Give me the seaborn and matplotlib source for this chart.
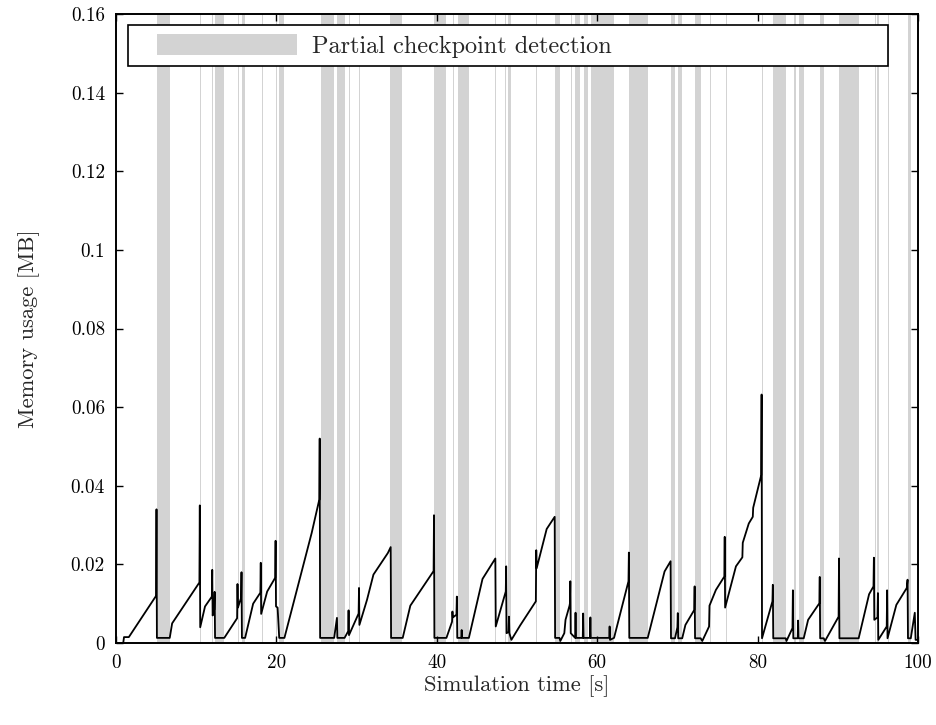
import numpy as np
import pandas as pd
import matplotlib
matplotlib.use("Agg")
import matplotlib.pyplot as plt
import seaborn as sns
from matplotlib.patches import Patch, Rectangle
from matplotlib.legend_handler import HandlerPatch

# ---------------- data ----------------
time_s = [0.0, 0.9, 1.0, 1.6, 5.0, 5.05, 5.1, 6.7, 7.0, 10.4, 10.45, 10.5, 11.1, 11.95, 12.0, 12.05,
          12.25, 12.3, 12.35, 13.5, 15.1, 15.15, 15.2, 15.6, 15.65, 15.7, 16.1, 17.1, 18.0, 18.05,
          18.1, 18.85, 19.85, 19.9, 19.95, 20.15, 20.35, 21.0, 24.4, 25.35, 25.4, 25.45, 27.2,
          27.55, 27.6, 28.5, 28.95, 29.0, 29.05, 30.25, 30.3, 30.35, 31.3, 32.1, 33.9, 34.25,
          34.3, 35.75, 36.7, 39.6, 39.65, 39.7, 41.2, 41.9, 41.95, 42.0, 42.45, 42.5, 42.55,
          43.05, 43.1, 43.15, 44.0, 45.7, 47.3, 47.35, 48.6, 48.65, 48.7, 48.95, 49.0, 49.05,
          49.3, 50.4, 52.35, 52.4, 52.45, 53.7, 54.7, 54.75, 55.3, 55.4, 55.9, 56.05, 56.55,
          56.6, 56.65, 56.7, 57.25, 57.3, 57.35, 58.2, 58.25, 58.3, 59.1, 59.15, 59.2, 61.5,
          61.55, 61.6, 62.1, 63.9, 63.95, 64.0, 66.3, 67.3, 68.4, 69.15, 69.2, 69.7, 70.0,
          70.05, 70.1, 70.6, 71.0, 72.1, 72.15, 72.2, 72.9, 73.1, 73.95, 74.0, 74.8, 75.85,
          75.9, 75.95, 77.3, 78.1, 78.15, 78.9, 79.4, 79.45, 80.45, 80.5, 80.55, 81.85, 81.9,
          81.95, 83.5, 83.6, 84.35, 84.4, 84.45, 85.0, 85.05, 85.1, 85.75, 86.3, 87.7, 87.75,
          87.8, 88.25, 88.4, 90.1, 90.15, 90.2, 92.6, 93.9, 94.45, 94.5, 94.55, 94.95, 95.0,
          95.05, 96.1, 96.15, 96.2, 97.3, 98.6, 98.7, 98.75, 99.1, 99.6, 99.7, 100.0]
memory_mb = [0.0, 0.0, 0.0015, 0.0015, 0.012, 0.034, 0.0013, 0.0013, 0.005, 0.0154, 0.035, 0.004,
             0.0093, 0.0118, 0.0186, 0.007, 0.0085, 0.013, 0.0013, 0.0013, 0.0063, 0.015, 0.009,
             0.0115, 0.018, 0.0013, 0.0013, 0.010, 0.0128, 0.0204, 0.0074, 0.0131, 0.0166, 0.026,
             0.0093, 0.009, 0.0013, 0.0013, 0.028, 0.0365, 0.052, 0.0013, 0.0013, 0.0064, 0.0013,
             0.0013, 0.003, 0.0083, 0.002, 0.0075, 0.014, 0.0046, 0.011, 0.0174, 0.0229, 0.0244,
             0.0013, 0.0013, 0.0095, 0.0183, 0.0325, 0.0013, 0.0013, 0.0054, 0.008, 0.0065,
             0.0072, 0.0118, 0.0013, 0.0013, 0.0033, 0.0013, 0.0013, 0.0163, 0.0215, 0.0042,
             0.0131, 0.0195, 0.0025, 0.0028, 0.0067, 0.0025, 0.0008, 0.0045, 0.0106, 0.0236,
             0.019, 0.029, 0.0321, 0.0013, 0.0013, 0.0005, 0.0025, 0.0059, 0.0095, 0.0101,
             0.0157, 0.0025, 0.0013, 0.0077, 0.0013, 0.0013, 0.0075, 0.0013, 0.0013, 0.0065,
             0.0013, 0.0013, 0.0042, 0.0008, 0.0013, 0.0157, 0.023, 0.0013, 0.0013, 0.0093,
             0.0182, 0.0208, 0.0012, 0.0012, 0.004, 0.0076, 0.0012, 0.0012, 0.0046, 0.0084,
             0.0144, 0.0012, 0.0012, 0.0005, 0.0042, 0.0095, 0.0135, 0.0169, 0.027, 0.009,
             0.0195, 0.0218, 0.0255, 0.0304, 0.0321, 0.0344, 0.0427, 0.0632, 0.0012, 0.0106,
             0.0148, 0.0012, 0.0012, 0.0005, 0.0038, 0.0134, 0.0012, 0.0012, 0.0057, 0.0012,
             0.0012, 0.0059, 0.0101, 0.0168, 0.0012, 0.0012, 0.0005, 0.0067, 0.0215, 0.0012,
             0.0012, 0.0124, 0.0144, 0.0217, 0.0059, 0.0065, 0.0127, 0.0008, 0.0042, 0.0134,
             0.0012, 0.0097, 0.014, 0.0161, 0.0012, 0.0012, 0.0077, 0.0008, 0.0008]

# partial checkpoint detection intervals (start, end) in seconds
detect_start = [5.05, 10.5, 12.0, 12.3, 15.2, 15.65, 18.15, 19.95, 20.3, 25.5, 27.6, 29.05, 30.35,
                34.2, 39.65, 42.0, 42.6, 47.3, 48.55, 48.9, 52.35, 54.7, 56.05, 56.7, 57.2,
                58.3, 59.2, 64.0, 69.2, 70.1, 72.2, 74.05, 76.05, 80.55, 81.95, 84.55, 85.1,
                87.75, 90.15, 94.65, 94.95, 96.25, 98.8]
detect_end = [6.7, 10.62, 12.12, 13.5, 15.32, 16.1, 18.27, 20.07, 21.0, 27.2, 28.5, 29.17, 30.47,
              35.7, 41.2, 42.12, 44.0, 47.42, 48.67, 49.25, 52.47, 55.4, 56.17, 56.82, 57.9,
              58.9, 62.1, 66.3, 69.7, 70.6, 72.9, 74.17, 76.17, 80.67, 83.5, 84.85, 85.8,
              88.25, 92.6, 94.77, 95.1, 96.37, 99.1]

y_ticks = [0, 0.02, 0.04, 0.06, 0.08, 0.1, 0.12, 0.14, 0.16]
y_tick_labels = ["0", "0.02", "0.04", "0.06", "0.08", "0.1", "0.12", "0.14", "0.16"]
x_ticks = [0, 20, 40, 60, 80, 100]
x_tick_labels = ["0", "20", "40", "60", "80", "100"]

# ---------------- style ----------------
sns.set_theme(style="ticks")
plt.rcParams["font.family"] = ["cmr10", "DejaVu Serif"]
plt.rcParams["mathtext.fontset"] = "cm"
plt.rcParams["axes.unicode_minus"] = False

FS = 13.8
LFS = 16.2
LEGFS = 17.5
BAND = "#d3d3d3"

fig = plt.figure(figsize=(9.37, 7.25), dpi=100)
ax = fig.add_axes([116 / 937, 82 / 725, 802 / 937, 629 / 725])

for s, e in zip(detect_start, detect_end):
    ax.axvspan(s, e, color=BAND, lw=0, zorder=0)

df = pd.DataFrame({"t": time_s, "m": memory_mb})
sns.lineplot(data=df, x="t", y="m", estimator=None, sort=False, color="black",
             lw=1.3, ax=ax, zorder=3)

ax.set_xlim(0, 100)
ax.set_ylim(0, 0.16)
ax.set_xticks(x_ticks)
ax.set_xticklabels(x_tick_labels)
ax.set_yticks(y_ticks)
ax.set_yticklabels(y_tick_labels)
ax.tick_params(direction="in", top=True, right=True, length=5, width=1.0,
               labelsize=FS, colors="black", pad=8)
for sp in ax.spines.values():
    sp.set_linewidth(1.4)
    sp.set_color("black")
ax.set_xlabel("Simulation time [s]", fontsize=LFS, labelpad=2)
ax.set_ylabel("Memory usage [MB]", fontsize=LFS, labelpad=22)


class OffsetPatchHandler(HandlerPatch):
    def create_artists(self, legend, orig_handle, xdescent, ydescent, width, height,
                       fontsize, trans):
        off = 0.85 * fontsize
        p = Rectangle((-xdescent + off, -ydescent), width - off, height,
                      facecolor=BAND, edgecolor="none", transform=trans)
        return [p]


handle = Patch(facecolor=BAND, edgecolor="none", label="Partial checkpoint detection")
leg = ax.legend(handles=[handle], loc="upper left",
                bbox_to_anchor=(0.015, 0.919, 0.948, 0.0636), mode="expand",
                borderaxespad=0, fancybox=False, framealpha=1, edgecolor="black",
                fontsize=LEGFS, handlelength=6.6, handleheight=0.95, handletextpad=0.6,
                borderpad=0.36, handler_map={Patch: OffsetPatchHandler()})
leg.get_frame().set_linewidth(1.2)
leg.set_zorder(5)

fig.savefig("out.png", dpi=100)
